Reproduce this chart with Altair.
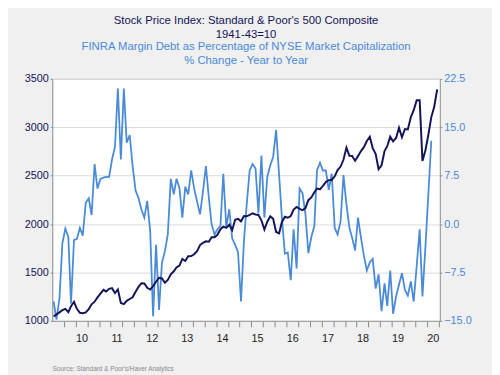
import altair as alt
import pandas as pd

# Monthly, Sep 2009 .. Aug 2020
spx = [1045, 1067, 1088, 1110,
       1123, 1089, 1152, 1197, 1125, 1083, 1079, 1087, 1122, 1171, 1198, 1242,
       1282, 1321, 1304, 1331, 1338, 1287, 1325, 1185, 1173, 1207, 1226, 1243,
       1300, 1352, 1389, 1386, 1341, 1323, 1359, 1404, 1444, 1438, 1394, 1422,
       1480, 1512, 1551, 1570, 1640, 1619, 1668, 1670, 1688, 1721, 1783, 1807,
       1822, 1817, 1864, 1864, 1889, 1947, 1973, 1961, 1993, 1937, 2045, 2055,
       2028, 2083, 2080, 2094, 2111, 2099, 2094, 2039, 1944, 2024, 2080, 2054,
       1918, 1904, 2022, 2075, 2065, 2083, 2149, 2177, 2157, 2143, 2165, 2247,
       2275, 2329, 2367, 2359, 2395, 2434, 2454, 2456, 2493, 2557, 2594, 2664,
       2790, 2705, 2703, 2654, 2702, 2754, 2794, 2858, 2902, 2785, 2723, 2567,
       2607, 2754, 2804, 2903, 2854, 2890, 2996, 2897, 2982, 2977, 3104, 3176,
       3278, 3278, 2652, 2762, 2920, 3105, 3208, 3391]

# Monthly, Sep 2009 .. Jun 2020 (% change y/y)
margin = [-12.0, -14.8, -11.5, -3.0,
          -0.7, -2.0, -12.3, -2.5, -2.3, -0.6, -1.8, 3.3, 4.0, 1.4, 9.3, 5.5,
          7.0, 7.2, 7.3, 7.3, 10.0, 12.0, 21.0, 10.0, 21.0, 12.6, 13.8, 9.0,
          5.2, 4.0, 2.3, 1.0, 3.6, -1.1, -14.3, -3.2, -13.3, -6.0, -4.2, -1.6,
          7.0, 4.6, 7.0, 5.6, 1.0, 5.8, 4.6, 8.3, 5.5, 3.5, 1.5, 5.0,
          9.0, 4.0, 0.0, -1.6, -0.8, -0.3, 7.8, -0.5, 2.3, -2.2, -3.2, -4.4,
          -12.0, -2.5, 3.0, 8.3, 9.3, 8.6, 1.7, 10.6, 1.0, 7.3, 9.1, 10.4,
          14.6, 7.6, 1.0, -4.6, -4.4, -8.7, -0.8, -6.9, 5.5, 4.8, 1.5, -4.5,
          -2.0, -0.3, 8.3, 9.5, 8.3, 8.3, 5.3, 7.8, -0.6, -1.6, 0.4, 7.6,
          3.0, -0.6, -2.1, -4.1, 1.0, -2.1, -4.9, -7.2, -5.9, -5.4, -10.0, -7.8,
          -13.5, -9.2, -12.7, -7.2, -13.9, -11.2, -9.4, -7.6, -10.2, -11.1, -8.9, -12.0,
          -6.5, -0.8, -11.2, -3.5, 4.5, 12.9]

left_ticks = [1000, 1500, 2000, 2500, 3000, 3500]
right_ticks = [-15.0, -7.5, 0.0, 7.5, 15.0, 22.5]

NAVY = "#14145a"
BLUE = "#4a8ad6"

dates = (pd.date_range("2009-09-01", periods=len(spx), freq="MS") + pd.Timedelta(days=14))
df_spx = pd.DataFrame({"date": dates.strftime("%Y-%m-%d"), "spx": spx})
df_mg = pd.DataFrame({"date": dates[:len(margin)].strftime("%Y-%m-%d"), "margin": margin})


def ms(s):
    return int(pd.Timestamp(s).value // 10**6)


x_domain = [ms("2009-09-01"), ms("2020-09-12")]
tick_dates = list(pd.date_range("2010-01-01", "2020-09-01", freq="4MS"))
label_dates = list(pd.date_range("2010-07-01", "2020-07-01", freq="12MS"))
x_values = sorted(ms(d) for d in tick_dates + label_dates)

x_enc = alt.X(
    "date:T",
    scale=alt.Scale(type="utc", domain=x_domain, nice=False),
    axis=alt.Axis(
        values=x_values,
        labelExpr="utcmonth(datum.value) == 6 ? utcFormat(datum.value, '%y') : ''",
        labelAlign="center",
        labelOverlap=False,
        labelFlush=False,
        labelBound=False,
        labelFontSize=11,
        labelColor="#222222",
        labelPadding=6,
        tickSize=6,
        tickOpacity={"condition": {"test": "utcmonth(datum.value) == 6", "value": 0}, "value": 1},
        tickColor="#888888",
        domainColor="#999999",
        grid=False,
        title="Source:  Standard & Poor's/Haver Analytics",
        titleFontSize=6.5,
        titleFontWeight="normal",
        titleColor="#888888",
        titleAnchor="start",
        titleAlign="left",
        titleBaseline="middle",
        titleY=48,
    ),
)

spx_line = alt.Chart(df_spx).mark_line(color=NAVY, strokeWidth=2).encode(
    x=x_enc,
    y=alt.Y(
        "spx:Q",
        scale=alt.Scale(domain=[1000, 3500], nice=False, zero=False),
        axis=alt.Axis(
            orient="left", values=left_ticks, format="d", title=None, labelColor=NAVY,
            labelFontSize=11, labelPadding=2, tickSize=2, tickColor="#888888",
            domainColor="#999999", grid=True, gridColor="#d9d9d9",
        ),
    ),
)

margin_line = alt.Chart(df_mg).mark_line(color=BLUE, strokeWidth=1.8).encode(
    x=x_enc,
    y=alt.Y(
        "margin:Q",
        scale=alt.Scale(domain=[-15, 22.5], nice=False, zero=False),
        axis=alt.Axis(
            orient="right", values=right_ticks, format=".1f", title=None,
            labelColor=BLUE, labelFontSize=11, labelPadding=2, tickSize=2,
            tickColor="#888888", domainColor="#999999", grid=False,
        ),
    ),
)

chart = (
    alt.layer(margin_line, spx_line)
    .resolve_scale(y="independent")
    .properties(
        width=394,
        height=246,
        autosize="none",
        padding={"left": 45, "top": 69, "right": 53, "bottom": 52},
        title=alt.TitleParams(
            text=["Stock Price Index: Standard & Poor's 500 Composite", "1941-43=10"],
            subtitle=["FINRA Margin Debt as Percentage of NYSE Market Capitalization",
                      "% Change - Year to Year"],
            color=NAVY,
            subtitleColor=BLUE,
            fontSize=11.5,
            subtitleFontSize=11.5,
            fontWeight="normal",
            lineHeight=14,
            subtitleLineHeight=14,
            subtitlePadding=1,
            anchor="middle",
            frame="group",
            offset=7,
        ),
    )
    .configure(background="#f0f0f0", font="Liberation Sans")
    .configure_view(fill="white", stroke="#c4c4c4", strokeWidth=1)
)

chart.save("out.html", embed_options={"renderer": "svg", "actions": False})
